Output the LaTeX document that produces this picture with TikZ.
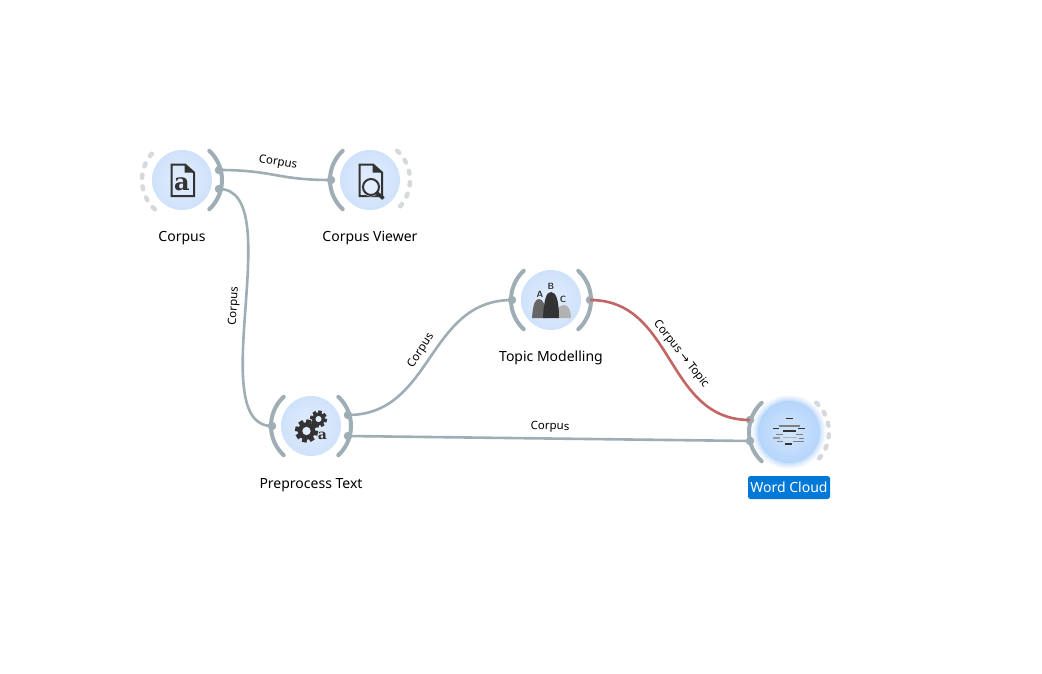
\documentclass[tikz,border=0pt]{standalone}
\usepackage{fontspec}
\setmainfont{Noto Sans}
\newfontfamily\symfont{DejaVu Sans}
\newfontfamily\letterfont{DejaVu Serif}
\usetikzlibrary{calc}
\definecolor{portc}{HTML}{9FAEB5}
\definecolor{idlec}{HTML}{D6D9DB}
\definecolor{linkc}{HTML}{9FAEB5}
\definecolor{redc}{HTML}{C36565}
\definecolor{iconc}{HTML}{333333}
\definecolor{discin}{HTML}{E2EDFD}
\definecolor{discout}{HTML}{CFE2FB}
\definecolor{selin}{HTML}{D4E6FD}
\definecolor{selout}{HTML}{B4D5FB}
\definecolor{glowc}{HTML}{A8CDF8}
\definecolor{selc}{HTML}{0078D7}
\tikzset{
  disc/.style={circle,minimum size=60pt,inner sep=0pt,inner color=discin,outer color=discout},
  seldisc/.style={circle,minimum size=62pt,inner sep=0pt,inner color=selin,outer color=selout},
  portarc/.style={draw=portc,line width=4pt,line cap=round},
  idlearc/.style={draw=idlec,line width=4.5pt,line cap=round,dash pattern=on 3pt off 8.7pt},
  anchordot/.style={circle,fill=portc,minimum size=8.5pt,inner sep=0pt},
  link/.style={draw=linkc,line width=2.6pt},
  redlink/.style={draw=redc,line width=2.6pt},
  caption/.style={font=\fontsize{14}{16}\selectfont,text=black,inner sep=0pt},
  linklabel/.style={font=\fontsize{11.5}{13}\selectfont,text=black,inner sep=0pt},
  icon/.style={draw=iconc,line width=2pt,line join=miter},
}
\newcommand{\rightarcat}[1]{\draw[portarc,shift={(#1)}] plot[domain=-47:47,samples=25] (\x:40);}
\newcommand{\leftarcat}[1]{\draw[portarc,shift={(#1)}] plot[domain=133:227,samples=25] (\x:40);}
\newcommand{\idleleft}[1]{\draw[idlearc,shift={(#1)}] plot[domain=133:227,samples=25] (\x:40);}
\newcommand{\idleright}[1]{\draw[idlearc,shift={(#1)}] plot[domain=-47:47,samples=25] (\x:40);}
\newcommand{\gearat}[3]{%
  \fill[iconc,shift={(#1,#2)}] (0,0) circle[radius=#3*0.76];
  \foreach \a in {0,45,...,315}{\draw[iconc,line width=#3*0.42pt,shift={(#1,#2)}] (0,0) -- (\a+12:#3);}
  \fill[discin,shift={(#1,#2)}] (0,0) circle[radius=#3*0.36];}
\begin{document}
\begin{tikzpicture}[x=1pt,y=-1pt]
\useasboundingbox (0,0) rectangle (1042,673);
\fill[white] (0,0) rectangle (1042,673);
% discs
\node[disc] (corpus) at (182,180) {};
\node[disc] (viewer) at (370,180) {};
\node[disc] (prep) at (311,426) {};
\node[disc] (topic) at (551,300) {};
% word cloud glow
\foreach \r/\o in {37/0.10,35.5/0.15,34/0.2,32.5/0.3}{\fill[glowc,opacity=\o] (789,432) circle[radius=\r];}
\node[seldisc] (cloud) at (789,432) {};
% arcs
\idleleft{corpus.center}
\rightarcat{corpus.center}
\leftarcat{viewer.center}
\idleright{viewer.center}
\leftarcat{prep.center}
\rightarcat{prep.center}
\leftarcat{topic.center}
\rightarcat{topic.center}
\leftarcat{cloud.center}
\idleright{cloud.center}
% anchors
\node[anchordot] (co1) at (219,170) {};
\node[anchordot] (co2) at (219,189) {};
\node[anchordot] (vi1) at (331,180) {};
\node[anchordot] (pi1) at (272,426) {};
\node[anchordot] (po1) at (348,415) {};
\node[anchordot] (po2) at (348,436) {};
\node[anchordot] (ti1) at (512,300) {};
\node[anchordot] (to1) at (590,300) {};
\node[anchordot] (ci1) at (750,420) {};
\node[anchordot] (ci2) at (750,441) {};
% links
\draw[link] (co1.center) .. controls +(55,0) and +(-55,0) .. (vi1.center);
\draw[link] (co2.center) .. controls +(70,0) and +(-70,0) .. (pi1.center);
\draw[link] (po1.center) .. controls +(85,0) and +(-85,0) .. (ti1.center);
\draw[link] (po2.center) -- (ci2.center);
\draw[redlink] (to1.center) .. controls +(85,0) and +(-85,0) .. (ci1.center);
% link labels
\node[linklabel,rotate=-9] (l1) at (278,163) {Corpus};
\node[linklabel,rotate=87] (l2) at (234,306) {Corpus};
\node[linklabel,rotate=57] (l3) at (421,351) {Corpus};
\node[linklabel,rotate=-1] (l4) at (550,427) {Corpus};
\node[linklabel,rotate=-52] (l5) at (681,354) {Corpus {\symfont→} Topic};
% captions
\node[caption] (c1) at (182,238) {Corpus};
\node[caption] (c2) at (370,238) {Corpus Viewer};
\node[caption] (c3) at (311,485) {Preprocess Text};
\node[caption] (c4) at (551,358) {Topic Modelling};
\node[caption,fill=selc,rounded corners=2.5pt,text=white,minimum width=82pt,minimum height=23pt] (c5) at (789,487.5) {Word Cloud};
% corpus icon
\draw[icon] (171.5,164.5) -- (185,164.5) -- (194,172.5) -- (194,196) -- (171.5,196) -- cycle;
\fill[iconc] (184.5,164.5) -- (194,172.5) -- (184.5,172.5) -- cycle;
\node[inner sep=0pt,text=iconc,font=\letterfont\bfseries\fontsize{24}{24}\selectfont] (ia) at (182,184) {a};
% viewer icon
\draw[icon] (359.5,164.5) -- (373,164.5) -- (382,172.5) -- (382,196) -- (359.5,196) -- cycle;
\fill[iconc] (372.5,164.5) -- (382,172.5) -- (372.5,172.5) -- cycle;
\fill[discin] (371,187) circle[radius=9.5];
\draw[iconc,line width=2pt] (371,187) circle[radius=8];
\draw[iconc,line width=3.5pt] (377,193) -- (383.5,198.5);
% gears
\gearat{306.5}{431}{11.5}
\gearat{318.5}{419}{8.5}
\node[inner sep=0pt,text=iconc,font=\letterfont\bfseries\fontsize{14}{14}\selectfont] (ib) at (322.5,436) {a};
% topic icon
\fill[black!60] (532,318) .. controls (533,304) and (535,299) .. (539,299) .. controls (543,299) and (545,304) .. (547,318) -- cycle;
\fill[black!30] (556,318) .. controls (556,309) and (560,305) .. (564,305) .. controls (568,305) and (571,310) .. (571,318) -- cycle;
\fill[iconc] (543,318) .. controls (544,300) and (546,292) .. (551,292) .. controls (556,292) and (559,300) .. (559,318) -- cycle;
\node[inner sep=0pt,text=iconc,font=\sffamily\bfseries\fontsize{9}{9}\selectfont] (ta) at (540,294) {A};
\node[inner sep=0pt,text=iconc,font=\sffamily\bfseries\fontsize{9}{9}\selectfont] (tb) at (551,286) {B};
\node[inner sep=0pt,text=iconc,font=\sffamily\bfseries\fontsize{9}{9}\selectfont] (tc) at (563,299) {C};
% word cloud icon
\begin{scope}[shift={(730,390)},x=0.3333pt,y=-0.3333pt]
\foreach \a/\b/\y/\c/\w in {168/190/86/iconc/1.5,148/210/107/gray/2.2,128/147/116/iconc/1.3,160/197/122/iconc/2,205/225/116/iconc/1.3,138/160/133/gray/1.3,198/218/133/gray/1.3,130/150/144/black!40/1.3,160/200/143/black!30/1.3,208/222/145/gray/1.3,140/160/154/gray/1.3,190/222/155/gray/1.3,165/187/162/iconc/1.3}
  \draw[\c,line width=\w pt] (\a,\y) -- (\b,\y);
\end{scope}
\end{tikzpicture}
\end{document}
